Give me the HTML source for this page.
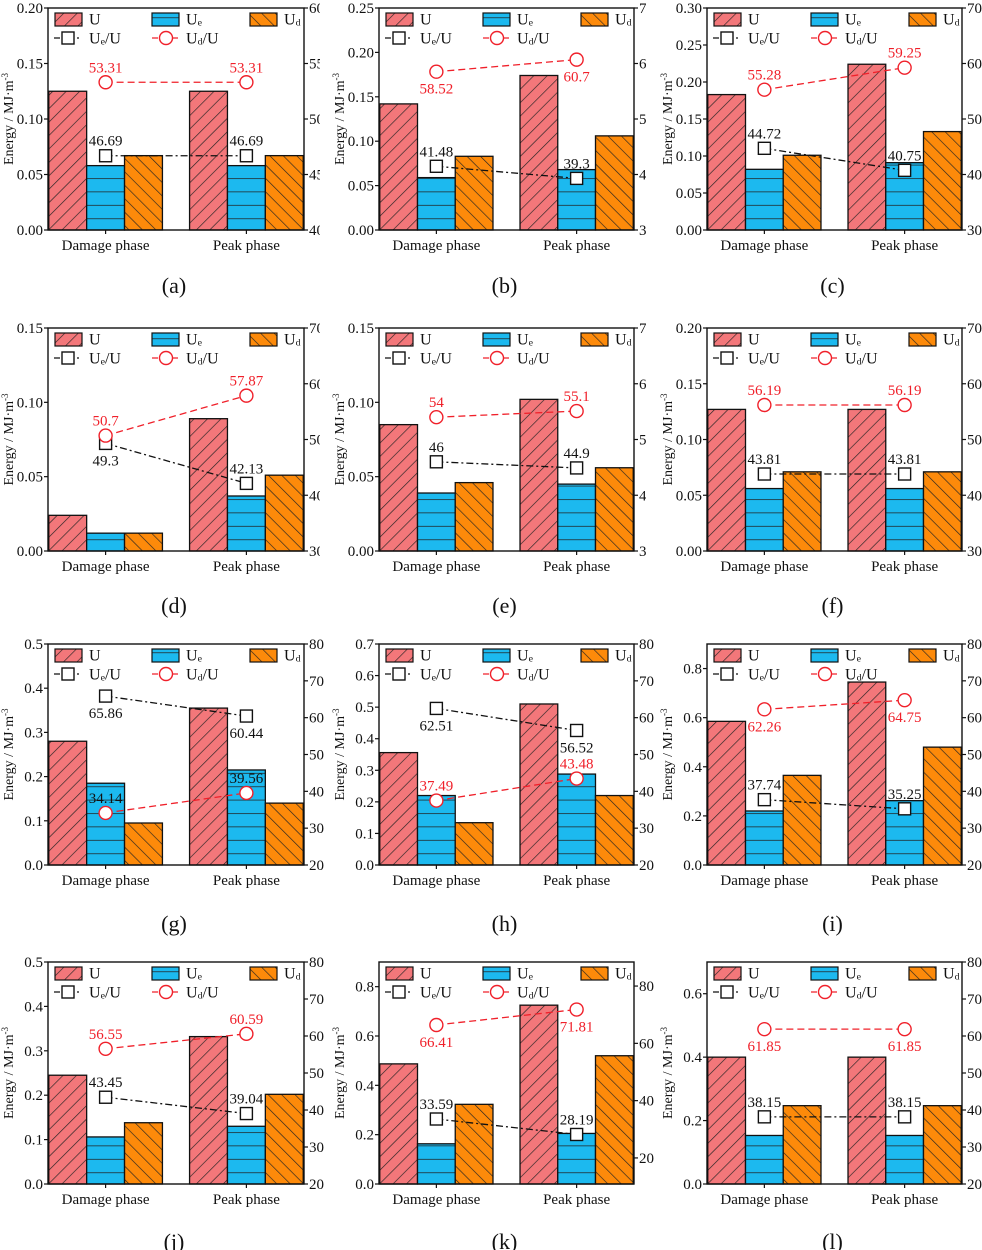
<!DOCTYPE html>
<html><head><meta charset="utf-8">
<style>
html,body{margin:0;padding:0;background:#fff;}
svg{display:block;font-family:"Liberation Serif",serif;}
</style></head>
<body>
<svg id="chart" width="982" height="1250" viewBox="0 0 982 1250" xmlns="http://www.w3.org/2000/svg">
<defs id="defs"></defs>
</svg>
<script>
// ---- data (per panel a..l) ----
const panelLetters = ["a","b","c","d","e","f","g","h","i","j","k","l"];
const categories = ["Damage phase","Peak phase"];
const U_vals  = [[0.125,0.125],[0.142,0.174],[0.183,0.224],[0.024,0.089],[0.085,0.102],[0.127,0.127],[0.28,0.355],[0.356,0.51],[0.585,0.745],[0.245,0.332],[0.487,0.725],[0.40,0.40]];
const Ue_vals = [[0.058,0.058],[0.059,0.068],[0.082,0.091],[0.012,0.037],[0.039,0.045],[0.056,0.056],[0.185,0.215],[0.22,0.288],[0.22,0.262],[0.106,0.13],[0.163,0.205],[0.153,0.153]];
const Ud_vals = [[0.067,0.067],[0.083,0.106],[0.101,0.133],[0.012,0.051],[0.046,0.056],[0.071,0.071],[0.095,0.14],[0.134,0.22],[0.365,0.48],[0.138,0.202],[0.323,0.52],[0.247,0.247]];
const UeU_vals = [[46.69,46.69],[41.48,39.3],[44.72,40.75],[49.3,42.13],[46,44.9],[43.81,43.81],[65.86,60.44],[62.51,56.52],[37.74,35.25],[43.45,39.04],[33.59,28.19],[38.15,38.15]];
const UdU_vals = [[53.31,53.31],[58.52,60.7],[55.28,59.25],[50.7,57.87],[54,55.1],[56.19,56.19],[34.14,39.56],[37.49,43.48],[62.26,64.75],[56.55,60.59],[66.41,71.81],[61.85,61.85]];
const UeU_labelPos = [["a","a"],["a","a"],["a","a"],["b","a"],["a","a"],["a","a"],["b","b"],["b","b"],["a","a"],["a","a"],["a","a"],["a","a"]];
const UdU_labelPos = [["a","a"],["b","b"],["a","a"],["a","a"],["a","a"],["a","a"],["a","a"],["a","a"],["b","b"],["a","a"],["b","b"],["b","b"]];
const leftMax = [0.20,0.25,0.30,0.15,0.15,0.20,0.5,0.7,0.9,0.5,0.9,0.7];
const leftTicks = [[0,0.05,0.10,0.15,0.20],[0,0.05,0.10,0.15,0.20,0.25],[0,0.05,0.10,0.15,0.20,0.25,0.30],[0,0.05,0.10,0.15],[0,0.05,0.10,0.15],[0,0.05,0.10,0.15,0.20],[0,0.1,0.2,0.3,0.4,0.5],[0,0.1,0.2,0.3,0.4,0.5,0.6,0.7],[0,0.2,0.4,0.6,0.8],[0,0.1,0.2,0.3,0.4,0.5],[0,0.2,0.4,0.6,0.8],[0,0.2,0.4,0.6]];
const leftDecimals = [2,2,2,2,2,2,1,1,1,1,1,1];
const rightMin = [40,30,30,30,30,30,20,20,20,20,10.9,20];
const rightMax = [60,70,70,70,70,70,80,80,80,80,88.4,80];
const rightTicks = [[40,45,50,55,60],[30,40,50,60,70],[30,40,50,60,70],[30,40,50,60,70],[30,40,50,60,70],[30,40,50,60,70],[20,30,40,50,60,70,80],[20,30,40,50,60,70,80],[20,30,40,50,60,70,80],[20,30,40,50,60,70,80],[20,40,60,80],[20,30,40,50,60,70,80]];

// ---- layout ----
const colLeft = [48,379,707], colRight = [304,634,962], colClip=[320,646,982];
const rowTop = [8,328,644,962], rowBottom = [230,551,865,1184];
const labelY = [287,607,925,1243];
const svg = document.getElementById('chart');
const defs = document.getElementById('defs');
const NS = "http://www.w3.org/2000/svg";
function mk(tag, attrs, parent){const e=document.createElementNS(NS,tag);for(const k in attrs)e.setAttribute(k,attrs[k]);(parent||svg).appendChild(e);return e;}
const C_U="#f3777a", C_Ue="#1cb9ef", C_Ud="#fd8a0a";
const FS=15;

function sub(t, base, s, size){
  t.textContent='';
  const a=document.createElementNS(NS,'tspan');a.textContent=base;t.appendChild(a);
  const b=document.createElementNS(NS,'tspan');b.textContent=s;b.setAttribute('font-size',size*0.62);b.setAttribute('dy','1');t.appendChild(b);
}

panelLetters.forEach((L,i)=>{
  const r=Math.floor(i/3), c=i%3;
  const x0=colLeft[c], x1=colRight[c], y0=rowTop[r], y1=rowBottom[r], W=x1-x0;
  const g=mk('g',{});
  
  
  if(r<2){
    const cp=mk('clipPath',{id:'clip'+L},defs);
    mk('rect',{x:c*330-20,y:y0-20,width:colClip[c]-(c*330-20),height:320},cp);
    g.setAttribute('clip-path','url(#clip'+L+')');
  }
  const P=9.5;
  const pU=mk('pattern',{id:'pU'+L,patternUnits:'userSpaceOnUse',width:P,height:P,patternTransform:'translate('+x0+','+y1+') rotate(45)'},defs);
  mk('rect',{width:P,height:P,fill:C_U},pU);mk('line',{x1:0,y1:0,x2:0,y2:P,stroke:'#222','stroke-width':1.3},pU);
  const pD=mk('pattern',{id:'pD'+L,patternUnits:'userSpaceOnUse',width:P,height:P,patternTransform:'translate('+x0+','+y1+') rotate(-45)'},defs);
  mk('rect',{width:P,height:P,fill:C_Ud},pD);mk('line',{x1:0,y1:0,x2:0,y2:P,stroke:'#222','stroke-width':1.3},pD);
  const pE=mk('pattern',{id:'pE'+L,patternUnits:'userSpaceOnUse',width:20,height:13.4,patternTransform:'translate(0,'+(y1-11.7)+')'},defs);
  mk('rect',{width:20,height:13.4,fill:C_Ue},pE);mk('line',{x1:0,y1:0,x2:20,y2:0,stroke:'#222','stroke-width':1.4},pE);

  const ys=v=>y1-(v/leftMax[i])*(y1-y0);
  const yr=v=>y1-(v-rightMin[i])/(rightMax[i]-rightMin[i])*(y1-y0);
  const bw=W*0.148;
  const centers=[x0+W*0.225, x0+W*0.775];
  const series=[[U_vals,'url(#pU'+L+')','bar-U'],[Ue_vals,'url(#pE'+L+')','bar-Ue'],[Ud_vals,'url(#pD'+L+')','bar-Ud']];
  centers.forEach((cx,k)=>{
    series.forEach((s,j)=>{
      const v=s[0][i][k];
      const bx=cx+(j-1.5)*bw;
      const rc=mk('rect',{x:bx,y:ys(v),width:bw,height:y1-ys(v),fill:s[1],stroke:'#111','stroke-width':1.3},g);
      
      
    });
  });
  const fr=mk('rect',{x:x0,y:y0,width:W,height:y1-y0,fill:'none',stroke:'#111','stroke-width':1.4},g);
  
  
  leftTicks[i].forEach(t=>{
    const y=ys(t);
    mk('line',{x1:x0-4,x2:x0,y1:y,y2:y,stroke:'#111','stroke-width':1.2},g);
    const tx=mk('text',{x:x0-5,y:y+5,'text-anchor':'end','font-size':FS,fill:'#111'},g);
    tx.textContent=t.toFixed(leftDecimals[i]);
    
    
  });
  rightTicks[i].forEach(t=>{
    const y=yr(t);
    mk('line',{x1:x1,x2:x1+4,y1:y,y2:y,stroke:'#111','stroke-width':1.2},g);
    const tx=mk('text',{x:x1+5,y:y+5,'font-size':FS,fill:'#111'},g);
    tx.textContent=String(t);
    
    
  });
  centers.forEach((cx,k)=>{
    mk('line',{x1:cx,x2:cx,y1:y1,y2:y1+4,stroke:'#111','stroke-width':1.2},g);
    const tx=mk('text',{x:cx,y:y1+20,'text-anchor':'middle','font-size':FS,fill:'#111'},g);
    tx.textContent=categories[k];
    
    
  });
  const ayc=(y0+y1)/2, ax=x0-35;
  const at=mk('text',{x:ax,y:ayc,'text-anchor':'middle','font-size':14,fill:'#111',transform:'rotate(-90 '+ax+' '+ayc+')'},g);
  at.textContent='Energy / MJ·m';
  const sp=document.createElementNS(NS,'tspan');sp.textContent='-3';sp.setAttribute('font-size','9');sp.setAttribute('dy','-5');at.appendChild(sp);
  
  
  const lineSeries=[[UeU_vals,UeU_labelPos,'#111','7,3,2,3','sq','ratio-Ue-U'],[UdU_vals,UdU_labelPos,'#f0202a','7,4','ci','ratio-Ud-U']];
  lineSeries.forEach(ls=>{
    const pts=centers.map((cx,k)=>[cx,yr(ls[0][i][k])]);
    const pl=mk('line',{x1:pts[0][0],y1:pts[0][1],x2:pts[1][0],y2:pts[1][1],stroke:ls[2],'stroke-width':1.3,'stroke-dasharray':ls[3]},g);
    
    
    pts.forEach((p,k)=>{
      let m;
      if(ls[4]==='sq') m=mk('rect',{x:p[0]-6,y:p[1]-6,width:12,height:12,fill:'#fff',stroke:'#111','stroke-width':1.4},g);
      else m=mk('circle',{cx:p[0],cy:p[1],r:6.5,fill:'#fff',stroke:'#f0202a','stroke-width':1.4},g);
      
      
      const above=ls[1][i][k]==='a';
      const col=(L==='g')?'#111':ls[2];
      const tx=mk('text',{x:p[0],y:above?p[1]-10:p[1]+22,'text-anchor':'middle','font-size':FS,fill:col},g);
      tx.textContent=String(ls[0][i][k]);
      
      
    });
  });
  const ly=y0+11, ly2=y0+30;
  const lg=mk('g',{},g);
  
  
  [[7,'url(#pU'+L+')','U',''],[104,'url(#pE'+L+')','U','e'],[202,'url(#pD'+L+')','U','d']].forEach(e=>{
    mk('rect',{x:x0+e[0],y:ly-6,width:27,height:13,fill:e[1],stroke:'#111','stroke-width':1.2},lg);
    const t=mk('text',{x:x0+e[0]+34,y:ly+5.5,'font-size':16,fill:'#111'},lg);
    if(e[3]) sub(t,e[2],e[3],16); else t.textContent=e[2];
    
    
  });
  mk('line',{x1:x0+6,x2:x0+33,y1:ly2,y2:ly2,stroke:'#111','stroke-width':1.3,'stroke-dasharray':'6,3,2,3'},lg);
  mk('rect',{x:x0+14,y:ly2-6,width:12,height:12,fill:'#fff',stroke:'#111','stroke-width':1.4},lg);
  const t1=mk('text',{x:x0+41,y:ly2+5.5,'font-size':16,fill:'#111'},lg);
  sub(t1,'U','e',16); const t1b=document.createElementNS(NS,'tspan');t1b.textContent='/U';t1b.setAttribute('dy','-1');t1.appendChild(t1b);
  
  
  mk('line',{x1:x0+104,x2:x0+132,y1:ly2,y2:ly2,stroke:'#f0202a','stroke-width':1.3,'stroke-dasharray':'6,4'},lg);
  mk('circle',{cx:x0+118,cy:ly2,r:6.5,fill:'#fff',stroke:'#f0202a','stroke-width':1.4},lg);
  const t2=mk('text',{x:x0+138,y:ly2+5.5,'font-size':16,fill:'#111'},lg);
  sub(t2,'U','d',16); const t2b=document.createElementNS(NS,'tspan');t2b.textContent='/U';t2b.setAttribute('dy','-1');t2.appendChild(t2b);
  
  
  const pl=mk('text',{x:(x0+x1)/2-2,y:labelY[r]+6,'text-anchor':'middle','font-size':22,fill:'#111'});
  pl.textContent='('+L+')';
  
  
});
</script>
</body></html>
